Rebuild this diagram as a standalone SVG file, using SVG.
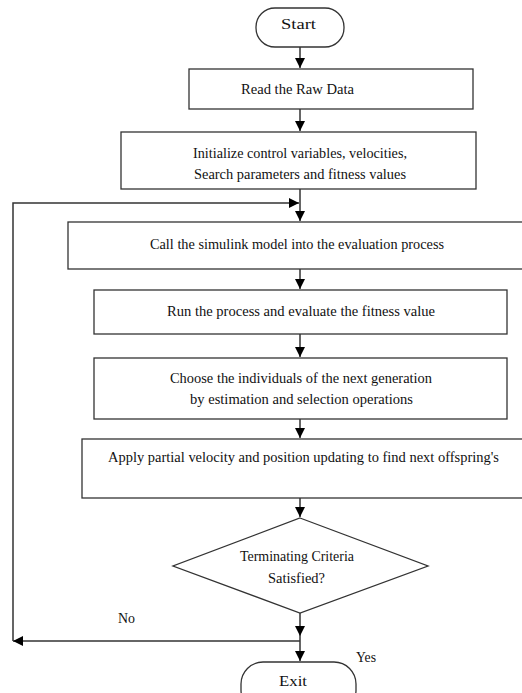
<svg xmlns="http://www.w3.org/2000/svg" width="522" height="693" viewBox="0 0 522 693">
<defs>
<marker id="ah" viewBox="0 0 10 10" refX="10" refY="5" markerWidth="10" markerHeight="10" markerUnits="userSpaceOnUse" orient="auto">
<path d="M0,0 L10,5 L0,10 Z" fill="#000"/>
</marker>
</defs>
<style>
.box{fill:#fff;stroke:#333;stroke-width:1.3}
.t{font-family:"Liberation Serif","Times New Roman",serif;font-size:15.5px;fill:#111;text-anchor:middle}
.c{fill:none;stroke:#333;stroke-width:1.5}
</style>
<rect width="522" height="693" fill="#fff"/>
<g id="start"><rect class="box" x="256" y="8" width="88" height="39" rx="19"/><text class="t" x="298.5" y="29" textLength="35" lengthAdjust="spacingAndGlyphs">Start</text></g>
<g id="read"><rect class="box" x="189" y="69" width="284" height="40"/><text class="t" x="297.5" y="94" textLength="113" lengthAdjust="spacingAndGlyphs">Read the Raw Data</text></g>
<g id="init"><rect class="box" x="121" y="132" width="355" height="57"/><text class="t" x="300" y="158" textLength="214" lengthAdjust="spacingAndGlyphs">Initialize control variables, velocities,</text><text class="t" x="300" y="179" textLength="212" lengthAdjust="spacingAndGlyphs">Search parameters and fitness values</text></g>
<g id="call"><rect class="box" x="68" y="222" width="470" height="47"/><text class="t" x="297" y="249" textLength="294" lengthAdjust="spacingAndGlyphs">Call the simulink model into the evaluation process</text></g>
<g id="run"><rect class="box" x="94" y="290" width="413" height="44"/><text class="t" x="301" y="316" textLength="268" lengthAdjust="spacingAndGlyphs">Run the process and evaluate the fitness value</text></g>
<g id="choose"><rect class="box" x="94" y="358" width="413" height="61"/><text class="t" x="301" y="383" textLength="262" lengthAdjust="spacingAndGlyphs">Choose the individuals of the next generation</text><text class="t" x="301.5" y="404" textLength="223" lengthAdjust="spacingAndGlyphs">by estimation and selection operations</text></g>
<g id="apply"><rect class="box" x="82" y="439" width="460" height="59"/><text class="t" x="303.5" y="462" textLength="391" lengthAdjust="spacingAndGlyphs">Apply partial velocity and position updating to find next offspring's</text></g>
<g id="decision"><polygon class="box" points="300,518 428,566 300,613 173,566"/><text class="t" x="297" y="561" textLength="114" lengthAdjust="spacingAndGlyphs">Terminating Criteria</text><text class="t" x="296.5" y="583" textLength="57" lengthAdjust="spacingAndGlyphs">Satisfied?</text></g>
<g id="exit"><rect class="box" x="241" y="662" width="115" height="50" rx="22"/><text class="t" x="293" y="686" textLength="28" lengthAdjust="spacingAndGlyphs">Exit</text></g>
<g id="connectors">
<line class="c" x1="300" y1="47" x2="300" y2="68" marker-end="url(#ah)"/>
<line class="c" x1="300" y1="109" x2="300" y2="131" marker-end="url(#ah)"/>
<line class="c" x1="300" y1="189" x2="300" y2="221" marker-end="url(#ah)"/>
<line class="c" x1="300" y1="269" x2="300" y2="289" marker-end="url(#ah)"/>
<line class="c" x1="300" y1="334" x2="300" y2="357" marker-end="url(#ah)"/>
<line class="c" x1="300" y1="419" x2="300" y2="438" marker-end="url(#ah)"/>
<line class="c" x1="300" y1="498" x2="300" y2="517" marker-end="url(#ah)"/>
<line class="c" x1="300" y1="613" x2="300" y2="636" marker-end="url(#ah)"/>
<line class="c" x1="300" y1="636" x2="300" y2="661" marker-end="url(#ah)"/>
<line class="c" x1="300" y1="641" x2="13" y2="641" marker-end="url(#ah)"/>
<polyline class="c" points="13,641 13,203 299,203" marker-end="url(#ah)"/>
</g>
<text class="t" x="126.5" y="623" textLength="17" lengthAdjust="spacingAndGlyphs">No</text>
<text class="t" x="366" y="662" textLength="20" lengthAdjust="spacingAndGlyphs">Yes</text>
</svg>
